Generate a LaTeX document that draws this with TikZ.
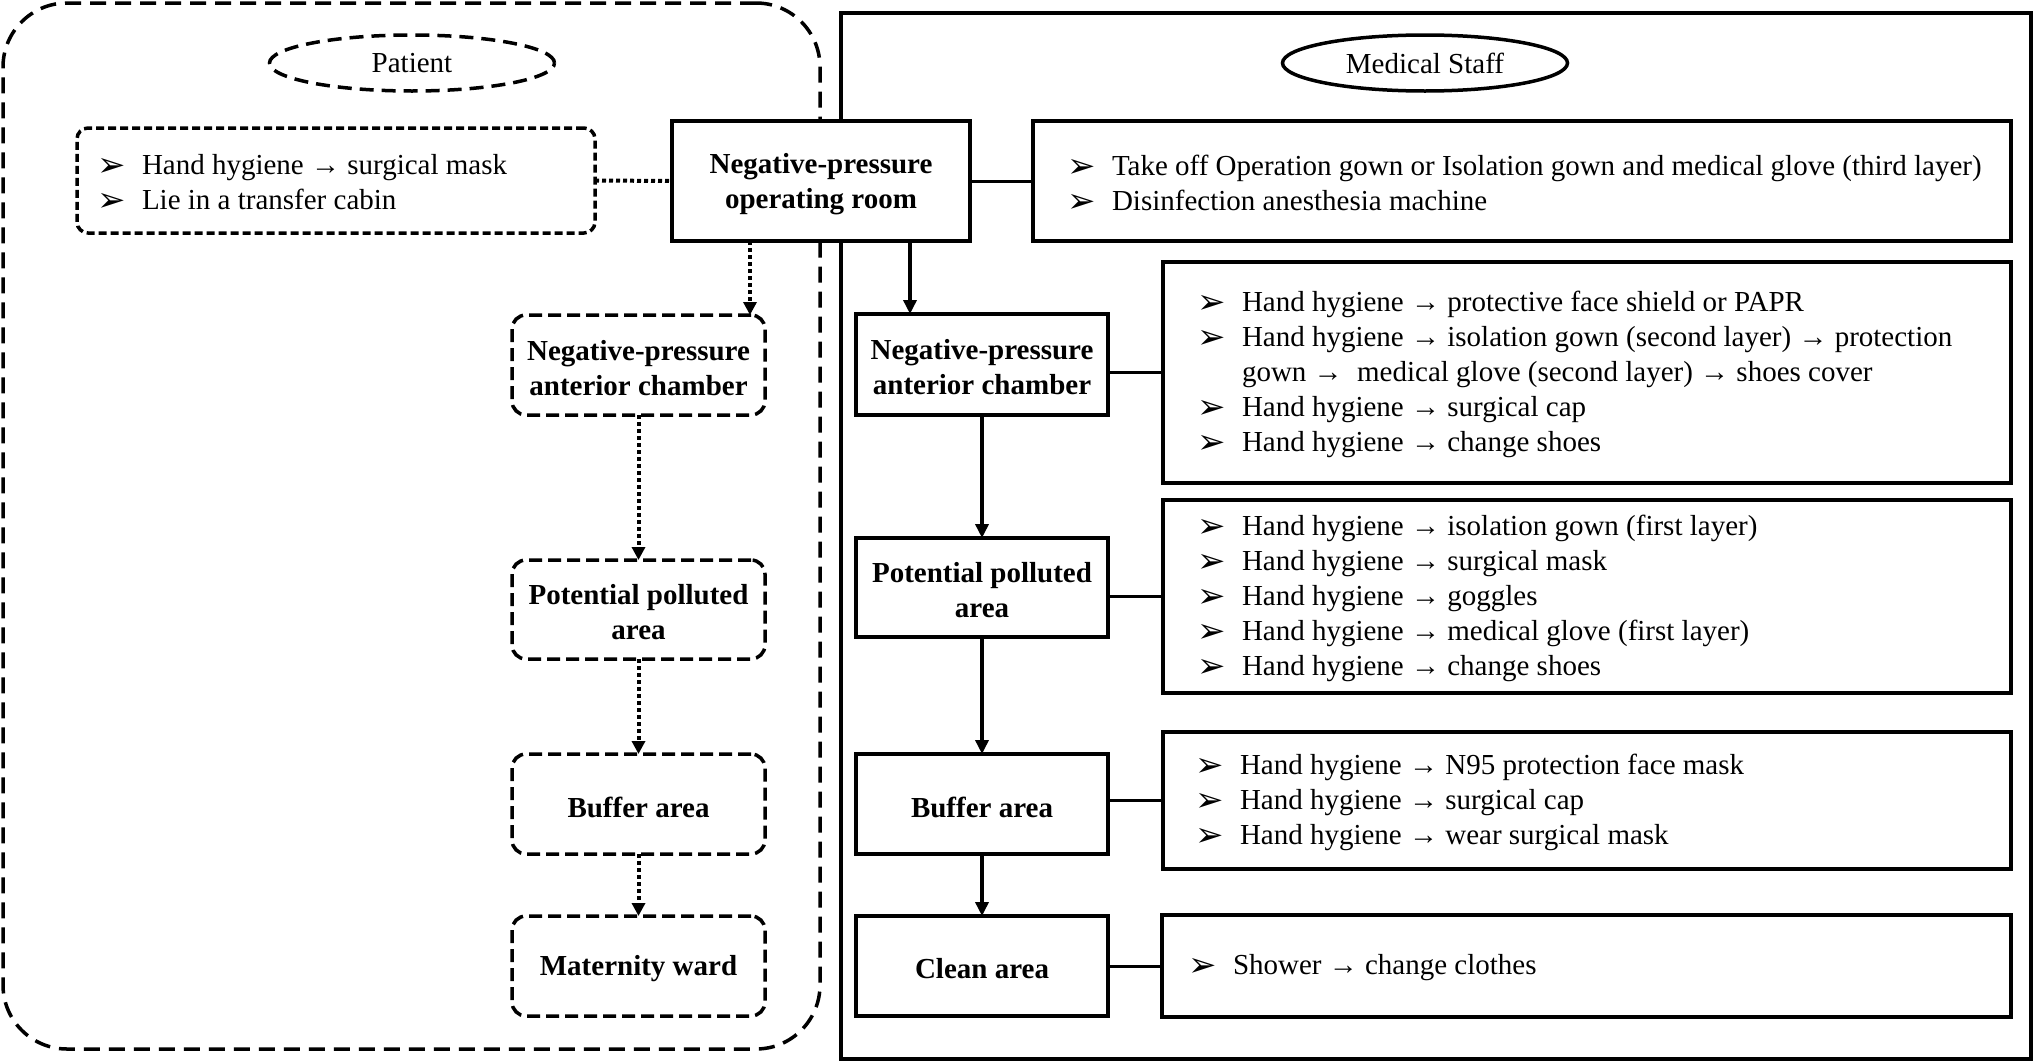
\documentclass[tikz,border=0pt]{standalone}
\usepackage{fontspec}
\setmainfont{Liberation Serif}
\newfontfamily\dejavu{DejaVu Sans}
\usetikzlibrary{arrows.meta,shapes.geometric}
\newcommand{\bulglyph}{\raisebox{-2pt}[0pt][0pt]{\dejavu\fontsize{34}{34}\selectfont ➢}}
\newcommand{\bl}{\makebox[45pt][l]{\bulglyph}}
\newcommand{\boxat}[7]{\node[#1, minimum width={(#4)-(#2)}, minimum height={(#5)-(#3)}] (#6) at ({((#2)+(#4))/2},{((#3)+(#5))/2}) {};
  \node[boxtxt] (#6-t) at ([yshift=-3pt]#6.center) {#7};}
\tikzset{
  txt/.style={font=\fontsize{29}{35}\selectfont, inner sep=0pt, outer sep=0pt},
  boxtxt/.style={txt, align=center, font=\fontsize{29}{35}\selectfont\bfseries},
  solidbox/.style={txt, draw, line width=3.5pt, fill=white},
  listbox/.style={txt, draw, line width=3.5pt, fill=white},
  dashbox/.style={txt, draw, line width=3.5pt, fill=white, rounded corners=14pt, dash pattern=on 13pt off 6pt},
  handbox/.style={txt, draw, line width=3.5pt, fill=white, rounded corners=11pt, dash pattern=on 8pt off 4pt},
  region/.style={draw, line width=3.5pt, inner sep=0pt, outer sep=0pt},
  listtxt/.style={txt, anchor=west, align=left},
  solidarr/.style={line width=3.5pt, -{Triangle[length=14pt,width=13pt]}},
  dotarr/.style={line width=4pt, dash pattern=on 4pt off 3pt, -{Triangle[length=13pt,width=13pt]}},
  dotline/.style={line width=4pt, dash pattern=on 4pt off 3pt},
  plain/.style={line width=3pt}
}
\begin{document}
\begin{tikzpicture}[x=1pt,y=-1pt]
\useasboundingbox (0,0) rectangle (2035,1063);
% regions
\node[region, rounded corners=64pt, dash pattern=on 16pt off 9pt, minimum width=817pt, minimum height=1046pt] (pat) at (411.5,526) {};
\node[region, minimum width=1190pt, minimum height=1046pt] (med) at (1436,536) {};
\node[txt, ellipse, draw, line width=3.5pt, dash pattern=on 14pt off 8pt, minimum width=285pt, minimum height=56pt] (patlbl) at (412,63) {Patient};
\node[txt, ellipse, draw, line width=3.5pt, minimum width=285pt, minimum height=56pt] (medlbl) at (1425,63) {Medical Staff};
% patient side
\boxat{handbox}{77}{128}{595}{233}{hand}{}
\node[listtxt] (handt) at ([xshift=20pt,yshift=-2pt]hand.west) {\bl Hand hygiene → surgical mask\\\bl Lie in a transfer cabin};
\boxat{solidbox}{672}{121}{970}{241}{oproom}{Negative-pressure\\operating room}
\boxat{dashbox}{512}{315}{765}{415}{lac}{Negative-pressure\\anterior chamber}
\boxat{dashbox}{512}{560}{765}{659}{lpp}{Potential polluted\\area}
\boxat{dashbox}{512}{754}{765}{854}{lbuf}{Buffer area}
\boxat{dashbox}{512}{916}{765}{1016}{mat}{Maternity ward}
% staff side
\boxat{listbox}{1033}{121}{2011}{241}{r1}{}
\node[listtxt] (r1t) at ([xshift=34pt,yshift=-2pt]r1.west) {\bl Take off Operation gown or Isolation gown and medical glove (third layer)\\\bl Disinfection anesthesia machine};
\boxat{solidbox}{856}{314}{1108}{415}{ac}{Negative-pressure\\anterior chamber}
\boxat{listbox}{1163}{262}{2011}{483}{r2}{}
\node[listtxt] (r2t) at ([xshift=34pt,yshift=-2pt]r2.west) {\bl Hand hygiene → protective face shield or PAPR\\\bl Hand hygiene → isolation gown (second layer) → protection\\\hspace*{45pt}gown →\ \ medical glove (second layer) → shoes cover\\\bl Hand hygiene → surgical cap\\\bl Hand hygiene → change shoes};
\boxat{solidbox}{856}{538}{1108}{637}{pp}{Potential polluted\\area}
\boxat{listbox}{1163}{500}{2011}{693}{r3}{}
\node[listtxt] (r3t) at ([xshift=34pt,yshift=-2pt]r3.west) {\bl Hand hygiene → isolation gown (first layer)\\\bl Hand hygiene → surgical mask\\\bl Hand hygiene → goggles\\\bl Hand hygiene → medical glove (first layer)\\\bl Hand hygiene → change shoes};
\boxat{solidbox}{856}{754}{1108}{854}{buf}{Buffer area}
\boxat{listbox}{1163}{732}{2011}{869}{r4}{}
\node[listtxt] (r4t) at ([xshift=32pt,yshift=-2pt]r4.west) {\bl Hand hygiene → N95 protection face mask\\\bl Hand hygiene → surgical cap\\\bl Hand hygiene → wear surgical mask};
\boxat{solidbox}{856}{916}{1108}{1016}{clean}{Clean area}
\boxat{listbox}{1162}{915}{2011}{1017}{r5}{}
\node[listtxt] (r5t) at ([xshift=26pt,yshift=-2pt]r5.west) {\bl Shower → change clothes};
% connectors
\draw[dotline] (hand.east) -- (oproom.west);
\draw[plain] (oproom.east) -- (r1.west);
\draw[plain] (ac.east |- r2.west) -- (r2.west);
\draw[plain] (pp.east |- r3.west) -- (r3.west);
\draw[plain] (buf.east |- r4.west) -- (r4.west);
\draw[plain] (clean.east |- r5.west) -- (r5.west);
\coordinate (acTop) at ([xshift=54pt]ac.north west);
\draw[solidarr] (acTop |- oproom.south) -- (acTop);
\draw[solidarr] (ac.south) -- (pp.north);
\draw[solidarr] (pp.south) -- (buf.north);
\draw[solidarr] (buf.south) -- (clean.north);
\coordinate (lacTop) at ([xshift=-15pt]lac.north east);
\draw[dotarr] (lacTop |- oproom.south) -- (lacTop);
\draw[dotarr] (lac.south) -- (lpp.north);
\draw[dotarr] (lpp.south) -- (lbuf.north);
\draw[dotarr] (lbuf.south) -- (mat.north);
\end{tikzpicture}
\end{document}
